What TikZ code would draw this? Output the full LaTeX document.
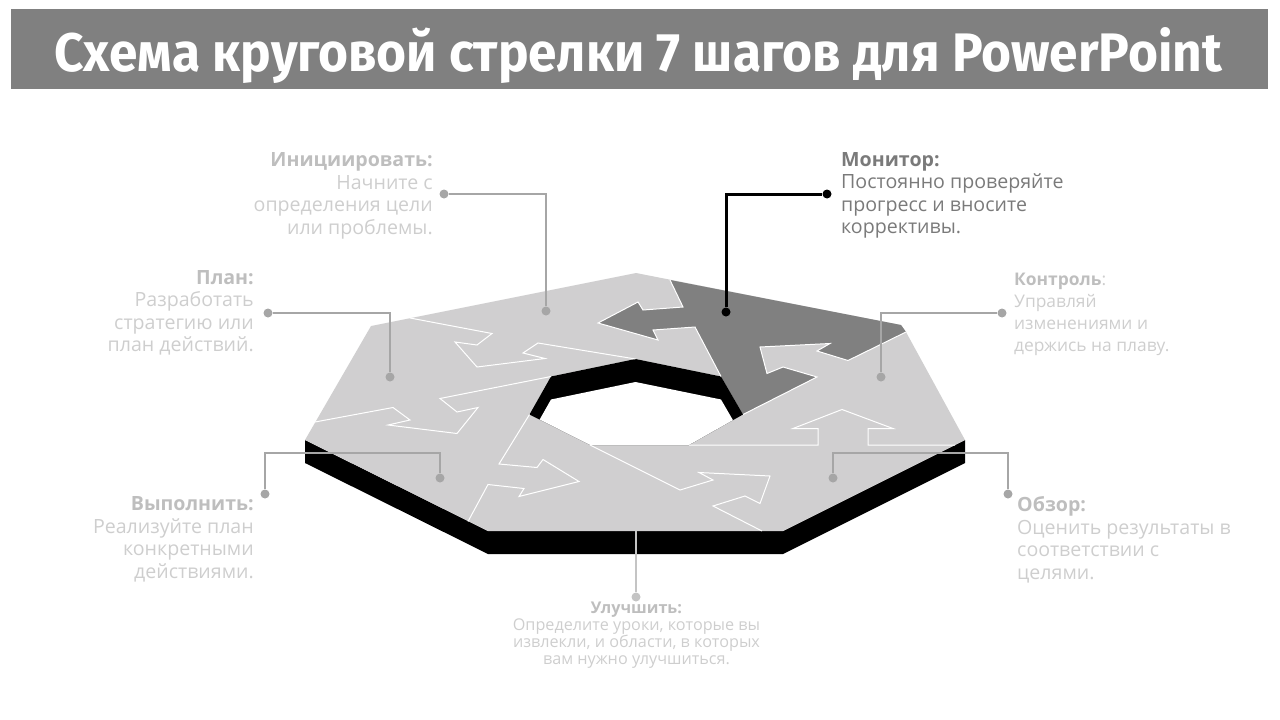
\documentclass[tikz,border=0pt]{standalone}
\usepackage{fontspec}
\setmainfont{Open Sans}
\newfontfamily\titlefont{Fira Sans}
\usepackage{graphicx}

\definecolor{barcol}{RGB}{128,128,128}
\definecolor{ringcol}{RGB}{208,207,208}
\definecolor{darkseg}{RGB}{128,128,128}
\definecolor{linecol}{RGB}{166,166,166}
\definecolor{paleline}{RGB}{196,196,196}
\definecolor{headcol}{RGB}{190,190,190}
\definecolor{bodycol}{RGB}{206,206,206}
\definecolor{moncol}{RGB}{122,122,122}

\tikzset{
  dotc/.style={circle, fill=linecol, inner sep=0pt, minimum size=9pt},
  dotk/.style={circle, fill=black, inner sep=0pt, minimum size=9pt},
  callout/.style={linecol, line width=2.5pt},
  seam/.style={white, line width=1pt},
  txt/.style={inner sep=0pt, text=bodycol, font=\fontsize{19.6}{22.5}\selectfont},
}

\def\outerpath{(636,273) -- (901,325) -- (906,332) -- (965,440) -- (783,531) -- (488,531) -- (305,440) -- (371,326) -- cycle}
\def\innerpath{(635.5,359) -- (721,376.5) -- (743,414.5) -- (689,445) -- (590,445) -- (529.5,414.5) -- (551,376.5) -- cycle}

\begin{document}
\begin{tikzpicture}[x=1pt,y=-1pt]
  \useasboundingbox (0,0) rectangle (1280,720);
  \fill[barcol] (11,9) rectangle (1268,89);
  \node (title) at (638.5,71.7) [anchor=base, inner sep=0pt, text=white] {\resizebox{1167pt}{44pt}{\titlefont\bfseries Схема круговой стрелки 7 шагов для PowerPoint}};

  % base and top of the ring
  \fill[black] (305,440) -- (305,463) -- (488,554) -- (783,554) -- (965,463) -- (965,440) -- (783,531) -- (488,531) -- cycle;
  \fill[ringcol, even odd rule] \outerpath \innerpath;
  \fill[darkseg] (721,376.5) -- (695,327) -- (653,330) -- (658,340) -- (598,323) -- (638,302) -- (643,310) -- (683,307) -- (670,280)
    -- (901,325) -- (906,332) -- (848,360.5) -- (817,351) -- (830,343.5) -- (760,347) -- (767,373.5) -- (783,367) -- (817,377) -- (743,414.5) -- cycle;
  \fill[black] \innerpath;
  \begin{scope}
    \clip \innerpath;
    \fill[white, shift={(0,23)}] \innerpath;
  \end{scope}

  % seams between the seven steps
  \draw[seam] (721,376.5) -- (695,327) -- (653,330) -- (658,340) -- (598,323) -- (638,302) -- (643,310) -- (683,307) -- (670,280);
  \draw[seam] (743,414.5) -- (817,377) -- (783,367) -- (767,373.5) -- (760,347) -- (830,343.5) -- (817,351) -- (848,360.5) -- (906,332);
  \draw[seam] (689,445) -- (818,445) -- (818,428.5) -- (793,428.5) -- (842,409.5) -- (893,428.5) -- (868,428.5) -- (868,445) -- (955,445);
  \draw[seam] (590,445) -- (680,490) -- (713,480) -- (699,472.5) -- (770,476) -- (760,503.5) -- (745,496) -- (713,506) -- (762,531);
  \draw[seam] (529.5,414.5) -- (499,464) -- (537,467.5) -- (543,459.5) -- (579,481.5) -- (519,496.5) -- (524,488.5) -- (488,484.5) -- (468,521.5);
  \draw[seam] (551,376.5) -- (440,398.5) -- (457,412) -- (478,407.5) -- (457,433.5) -- (388,425) -- (410,420) -- (393,407.5) -- (315,422);
  \draw[seam] (635.5,359) -- (538,343) -- (523,353) -- (545,358.5) -- (477,367) -- (455,342) -- (477,345) -- (492,333.5) -- (410,318);

  % callouts
  \node (initA) at (444,194) [dotc] {};
  \node (initB) at (546,311) [dotc] {};
  \node (planA) at (268,313) [dotc] {};
  \node (planB) at (390,377) [dotc] {};
  \node (execA) at (265,494) [dotc] {};
  \node (execB) at (440,478) [dotc] {};
  \coordinate (execK) at (440,453);
  \node (monA) at (827,194) [dotk] {};
  \node (monB) at (726,312) [dotk] {};
  \node (ctrlA) at (1002,313) [dotc] {};
  \node (ctrlB) at (881,377) [dotc] {};
  \node (revA) at (1008,494) [dotc] {};
  \node (revB) at (833,478) [dotc] {};
  \coordinate (revK) at (833,453);
  \coordinate (impA) at (636,531);
  \node (impB) at (636,597) [dotc, fill=paleline] {};
  \draw[callout] (initA) -| (initB);
  \draw[callout] (planA) -| (planB);
  \draw[callout] (execA) |- (execK) -- (execB);
  \draw[black, line width=3pt] (monA) -| (monB);
  \draw[callout] (ctrlA) -| (ctrlB);
  \draw[callout] (revA) |- (revK) -- (revB);
  \draw[callout, paleline] (impA) -- (impB);

  % texts
  \node (initT) at (433,152.5) [txt, anchor=north east, align=right] {\textcolor{headcol}{\bfseries Инициировать:}\\Начните с\\определения цели\\или проблемы.};
  \node (planT) at (254,270) [txt, anchor=north east, align=right] {\textcolor{headcol}{\bfseries План:}\\Разработать\\стратегию или\\план действий.};
  \node (execT) at (254,496.5) [txt, anchor=north east, align=right] {\textcolor{headcol}{\bfseries Выполнить:}\\Реализуйте план\\конкретными\\действиями.};
  \node (monT) at (841,152) [txt, text=moncol, anchor=north west, align=left] {\textbf{Монитор:}\\Постоянно проверяйте\\прогресс и вносите\\коррективы.};
  \node (ctrlT) at (1014,272.5) [txt, anchor=north west, align=left, font=\fontsize{17.4}{22}\selectfont] {\textcolor{headcol}{\bfseries Контроль}:\\Управляй\\изменениями и\\держись на плаву.};
  \node (revT) at (1017,496.5) [txt, anchor=north west, align=left] {\textcolor{headcol}{\bfseries Обзор:}\\Оценить результаты в\\соответствии с\\целями.};
  \node (impT) at (636.5,601.5) [txt, anchor=north, align=center, font=\fontsize{16.2}{17}\selectfont] {\textcolor{headcol}{\bfseries Улучшить:}\\Определите уроки, которые вы\\извлекли, и области, в которых\\вам нужно улучшиться.};
\end{tikzpicture}
\end{document}
